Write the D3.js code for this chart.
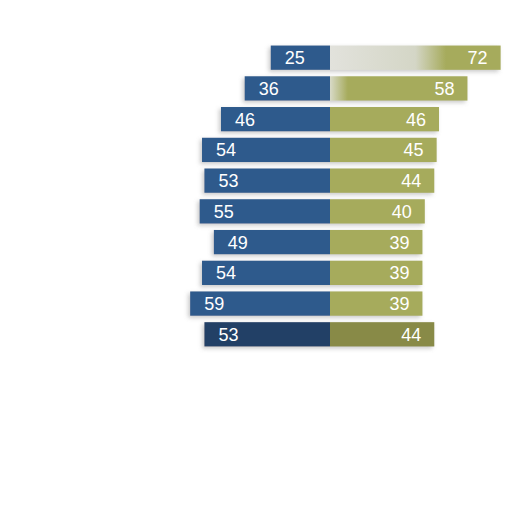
<!DOCTYPE html>
<html>
<head>
<meta charset="utf-8">
<script src="https://cdn.jsdelivr.net/npm/d3@7"></script>
<style>
	body { margin: 0; background: #fff; }
	svg text { font-family: "Liberation Sans", Arial, sans-serif; font-size: 18px; fill: #fff; }
</style>
</head>
<body>
<div id="chart"></div>
<script>
// one row per bar, top to bottom
var rows = ['r1', 'r2', 'r3', 'r4', 'r5', 'r6', 'r7', 'r8', 'r9', 'r10'];
var leftValues = [25, 36, 46, 54, 53, 55, 49, 54, 59, 53];
var rightValues = [72, 58, 46, 45, 44, 40, 39, 39, 39, 44];

var width = 512,
	height = 512,
	center = 330,
	pxPerUnit = 2.37;

var svg = d3.select('#chart').append('svg')
	.attr('width', width)
	.attr('height', height);

var y = d3.scaleBand()
	.domain(rows)
	.range([44, 348])
	.paddingInner(0.21)
	.paddingOuter(0.05);

var xLeft = d3.scaleLinear().domain([0, 100]).range([center, center - 100 * pxPerUnit]);
var xRight = d3.scaleLinear().domain([0, 100]).range([center, center + 100 * pxPerUnit]);

var defs = svg.append('defs');

defs.append('filter')
	.attr('id', 'shade')
	.attr('x', '-10%').attr('y', '-30%')
	.attr('width', '120%').attr('height', '160%')
	.append('feDropShadow')
	.attr('dx', -2).attr('dy', 2)
	.attr('stdDeviation', 2)
	.attr('flood-color', '#888')
	.attr('flood-opacity', 0.45);

// washed-out start of the top two green bars
var fades = [
	{ id: 'fade-0', stops: [['0%', '#e2e2dc'], ['50%', '#d4d6c6'], ['68%', '#a6ab5c'], ['100%', '#a6ab5c']] },
	{ id: 'fade-1', stops: [['0%', '#d8dac8'], ['13%', '#a6ab5c'], ['100%', '#a6ab5c']] }
];
fades.forEach(function(f) {
	defs.append('linearGradient')
		.attr('id', f.id)
		.attr('x1', 0).attr('x2', 1).attr('y1', 0).attr('y2', 0)
		.selectAll('stop')
		.data(f.stops)
		.enter()
		.append('stop')
		.attr('offset', function(d) { return d[0]; })
		.attr('stop-color', function(d) { return d[1]; });
});

function blueColor(i) { return i === rows.length - 1 ? '#233f66' : '#2d5a8c'; }
function greenColor(i) {
	if (i === rows.length - 1) return '#888a46';
	if (i < 2) return 'url(#fade-' + i + ')';
	return '#a6ab5c';
}

var row = svg.selectAll('g.row')
	.data(rows)
	.enter()
	.append('g')
	.attr('class', 'row')
	.attr('filter', 'url(#shade)');

row.append('rect')
	.attr('x', function(d, i) { return xLeft(leftValues[i]); })
	.attr('y', function(d) { return y(d); })
	.attr('width', function(d, i) { return center - xLeft(leftValues[i]); })
	.attr('height', y.bandwidth())
	.attr('fill', function(d, i) { return blueColor(i); });

row.append('rect')
	.attr('x', center)
	.attr('y', function(d) { return y(d); })
	.attr('width', function(d, i) { return xRight(rightValues[i]) - center; })
	.attr('height', y.bandwidth())
	.attr('fill', function(d, i) { return greenColor(i); });

svg.selectAll('text.left')
	.data(rows)
	.enter()
	.append('text')
	.attr('class', 'left')
	.attr('x', function(d, i) { return xLeft(leftValues[i]) + 14; })
	.attr('y', function(d) { return y(d) + y.bandwidth() / 2; })
	.attr('dy', '0.36em')
	.text(function(d, i) { return leftValues[i]; });

svg.selectAll('text.right')
	.data(rows)
	.enter()
	.append('text')
	.attr('class', 'right')
	.attr('text-anchor', 'end')
	.attr('x', function(d, i) { return xRight(rightValues[i]) - 13; })
	.attr('y', function(d) { return y(d) + y.bandwidth() / 2; })
	.attr('dy', '0.36em')
	.text(function(d, i) { return rightValues[i]; });
</script>
</body>
</html>
